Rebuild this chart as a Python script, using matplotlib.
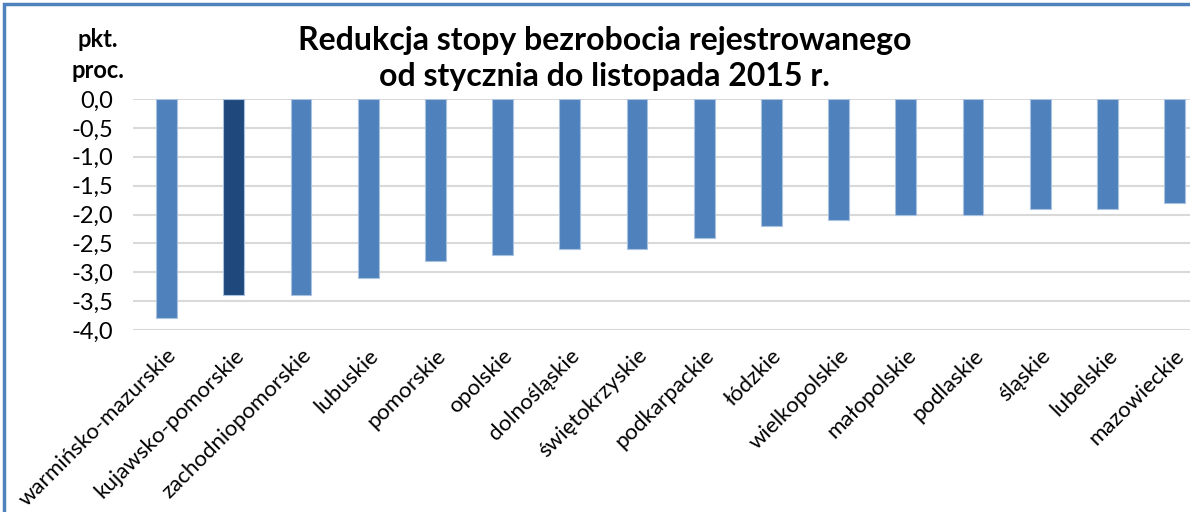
import matplotlib.pyplot as plt
from matplotlib.patches import Rectangle
import numpy as np

# Data
regions = ["warmińsko-mazurskie", "kujawsko-pomorskie", "zachodniopomorskie", "lubuskie",
           "pomorskie", "opolskie", "dolnośląskie", "świętokrzyskie", "podkarpackie",
           "łódzkie", "wielkopolskie", "małopolskie", "podlaskie", "śląskie",
           "lubelskie", "mazowieckie"]
values = [-3.8, -3.4, -3.4, -3.1, -2.8, -2.7, -2.6, -2.6, -2.4, -2.2, -2.1, -2.0, -2.0, -1.9, -1.9, -1.8]
highlight = "kujawsko-pomorskie"
yticks = [0.0, -0.5, -1.0, -1.5, -2.0, -2.5, -3.0, -3.5, -4.0]

plt.rcParams['font.family'] = ['Lato', 'DejaVu Sans']

fig = plt.figure(figsize=(11.9, 5.12), dpi=100)
# plot area runs off the right edge, as in the cropped reference
ax = fig.add_axes([0.1118, 0.3555, 0.9034, 0.451])

x = np.arange(len(regions))
colors = ['#1F497D' if r == highlight else '#4F81BD' for r in regions]
ax.bar(x, values, width=0.31, color=colors, edgecolor='#A9C2E0', linewidth=0.8, zorder=3)

ax.set_ylim(-4.0, 0.0)
ax.set_xlim(-0.5, len(regions) - 0.5)
ax.set_yticks(yticks)
ax.set_yticklabels([f"{v:.1f}".replace(".", ",") for v in yticks], fontsize=17)
ax.set_xticks(x)
ax.set_xticklabels(regions, rotation=45, ha='right', va='top', rotation_mode='anchor', fontsize=16)
ax.tick_params(axis='both', length=0)
ax.tick_params(axis='y', pad=14)
ax.tick_params(axis='x', pad=11)
ax.grid(axis='y', color='#D9D9D9', linewidth=1.5, zorder=0)
for s in ax.spines.values():
    s.set_visible(False)

fig.text(0.508, 0.885, "Redukcja stopy bezrobocia rejestrowanego\nod stycznia do listopada 2015 r.",
         ha='center', va='center', fontsize=23, fontweight='bold', linespacing=1.3)
fig.text(0.082, 0.893, "pkt.\nproc.", ha='center', va='center', fontsize=17,
         fontweight='bold', linespacing=1.45)

# chart frame (blue border, cut off at right and bottom)
fig.patches.append(Rectangle((4 / 1190, -0.05), 1.1, 1.05 - 4 / 512, transform=fig.transFigure,
                             fill=False, edgecolor='#4F81BD', linewidth=2.5))

fig.savefig("out.png", dpi=100)
